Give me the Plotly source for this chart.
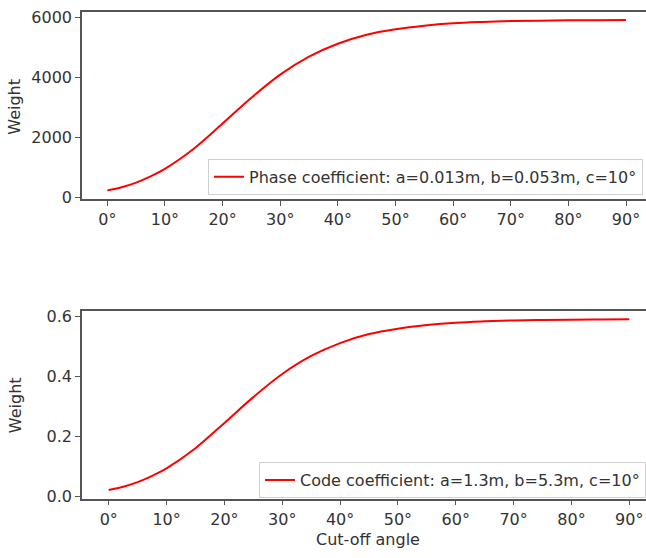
import plotly.graph_objects as go

# Cut-off angle samples (degrees)
angles = [0, 2.5, 5, 7.5, 10, 15, 20, 25, 30, 35, 40, 45, 50, 55, 60, 65, 70, 75, 80, 85, 90]

# Phase observation weight vs. cut-off angle
phase_weight = [230, 335, 490, 700, 950, 1620, 2460, 3320, 4090, 4690, 5120, 5420, 5600,
                5720, 5800, 5845, 5875, 5890, 5900, 5905, 5910]

# Code observation weight vs. cut-off angle
code_weight = [0.023, 0.0335, 0.049, 0.070, 0.095, 0.162, 0.246, 0.332, 0.409, 0.469,
               0.512, 0.542, 0.560, 0.572, 0.580, 0.5845, 0.5875, 0.589, 0.590, 0.5905, 0.591]

x_tickvals = [0, 10, 20, 30, 40, 50, 60, 70, 80, 90]
x_ticktext = [f"{v}°" for v in x_tickvals]

phase_label = "Phase coefficient: a=0.013m, b=0.053m, c=10°"
code_label = "Code coefficient: a=1.3m, b=5.3m, c=10°"

W, H = 646, 558
L = 82
FONT = "DejaVu Sans"
TXT = "#333333"
SPINE = "#555555"
FS = 16

fig = go.Figure()
fig.add_trace(go.Scatter(x=angles, y=phase_weight, mode="lines", name=phase_label,
                         line=dict(color="#ff0000", width=2, shape="spline"),
                         xaxis="x", yaxis="y", legend="legend"))
fig.add_trace(go.Scatter(x=angles, y=code_weight, mode="lines", name=code_label,
                         line=dict(color="#ff0000", width=2, shape="spline"),
                         xaxis="x2", yaxis="y2", legend="legend2"))

def ydom(top_px, bot_px):
    return [1 - bot_px / H, 1 - top_px / H]

axis_common = dict(showline=True, linecolor=SPINE, linewidth=1.5, ticks="outside",
                   ticklen=5, tickwidth=1.2, tickcolor=SPINE, showgrid=False,
                   zeroline=False, tickfont=dict(family=FONT, size=FS, color=TXT))

fig.update_layout(
    width=W, height=H,
    margin=dict(l=L, r=0, t=0, b=0),
    paper_bgcolor="white", plot_bgcolor="white",
    font=dict(family=FONT, size=FS, color=TXT),
    xaxis=dict(domain=[0, 1], range=[-4.39, 93.47], tickvals=x_tickvals,
               ticktext=x_ticktext, anchor="y", mirror=True, **axis_common),
    yaxis=dict(domain=ydom(8, 199.5), range=[-64, 6184],
               tickvals=[0, 2000, 4000, 6000], anchor="x", mirror=False, **axis_common),
    xaxis2=dict(domain=[0, 1], range=[-4.62, 92.89], tickvals=x_tickvals,
                ticktext=x_ticktext, anchor="y2", mirror=True, **axis_common),
    yaxis2=dict(domain=ydom(314, 505.5), range=[-0.006, 0.618],
                tickvals=[0.0, 0.2, 0.4, 0.6], ticktext=["0.0", "0.2", "0.4", "0.6"],
                anchor="x2", mirror=False, **axis_common),
    legend=dict(x=(643 - L) / (W - L), xanchor="right", y=1 - 195 / H, yanchor="bottom",
                bgcolor="white", bordercolor="#d0d0d0", borderwidth=1,
                font=dict(family=FONT, size=FS, color=TXT)),
    legend2=dict(x=(646 - L) / (W - L), xanchor="right", y=1 - 505 / H, yanchor="bottom",
                 bgcolor="white", bordercolor="#d0d0d0", borderwidth=1,
                 font=dict(family=FONT, size=FS, color=TXT)),
    showlegend=True,
)

# Axis titles
for yc in (105, 410):
    fig.add_annotation(text="Weight", xref="paper", yref="paper", x=0, xshift=15 - L,
                       xanchor="center", y=1 - yc / H, yanchor="middle",
                       textangle=-90, showarrow=False,
                       font=dict(family=FONT, size=FS, color=TXT))
fig.add_annotation(text="Cut-off angle", xref="paper", yref="paper",
                   x=(368 - L) / (W - L), xanchor="center",
                   y=1 - 547 / H, yanchor="middle", showarrow=False,
                   font=dict(family=FONT, size=FS, color=TXT))

fig.write_html("out.html")
